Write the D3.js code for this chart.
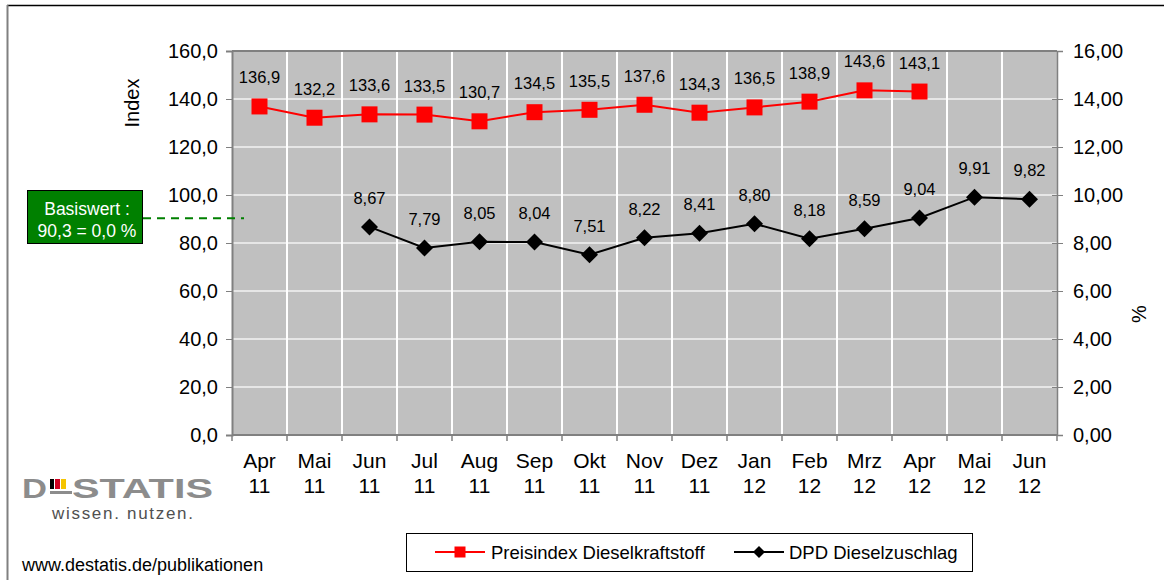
<!DOCTYPE html>
<html>
<head>
<meta charset="utf-8">
<script src="https://cdn.jsdelivr.net/npm/d3@7"></script>
<style>
  body { margin: 0; background: #fff; }
  svg { font-family: "Liberation Sans", Arial, sans-serif; }
  .axis path, .axis line { stroke: #808080; }
  .axis text { font-size: 20px; fill: #000; }
</style>
</head>
<body>
<svg id="chart" width="1164" height="580"></svg>
<script>
const months = ['Apr', 'Mai', 'Jun', 'Jul', 'Aug', 'Sep', 'Okt', 'Nov', 'Dez', 'Jan', 'Feb', 'Mrz', 'Apr', 'Mai', 'Jun'];
const years = ['11', '11', '11', '11', '11', '11', '11', '11', '11', '12', '12', '12', '12', '12', '12'];
const preisindex = [136.9, 132.2, 133.6, 133.5, 130.7, 134.5, 135.5, 137.6, 134.3, 136.5, 138.9, 143.6, 143.1, null, null];
const dpd = [null, null, 8.67, 7.79, 8.05, 8.04, 7.51, 8.22, 8.41, 8.80, 8.18, 8.59, 9.04, 9.91, 9.82];
const leftTicks = [0, 20, 40, 60, 80, 100, 120, 140, 160];
const rightTicks = [0, 2, 4, 6, 8, 10, 12, 14, 16];
const basiswert = 90.3;

function drawChart() {
  const svg = d3.select('#chart');
  const width = 1164,
    height = 580,
    plot = {left: 232, right: 1057, top: 51, bottom: 435};

  const fmt1 = d => d3.format('.1f')(d).replace('.', ',');
  const fmt2 = d => d3.format('.2f')(d).replace('.', ',');

  // outer frame
  svg.append('line').attr('x1', 7).attr('x2', width).attr('y1', 5.5).attr('y2', 5.5)
    .attr('stroke', '#000').attr('stroke-width', 1.5);
  svg.append('line').attr('x1', 7.5).attr('x2', 7.5).attr('y1', 5).attr('y2', height)
    .attr('stroke', '#808080').attr('stroke-width', 2);

  const idx = months.map((d, i) => i);

  const xScale = d3.scaleBand()
    .domain(idx)
    .range([plot.left, plot.right]);

  const yLeft = d3.scaleLinear()
    .domain([0, 160])
    .range([plot.bottom, plot.top]);

  const yRight = d3.scaleLinear()
    .domain([0, 16])
    .range([plot.bottom, plot.top]);

  // plot background
  svg.append('rect')
    .attr('x', plot.left).attr('y', plot.top)
    .attr('width', plot.right - plot.left).attr('height', plot.bottom - plot.top)
    .attr('fill', '#c0c0c0');

  // horizontal grid
  svg.append('g').selectAll('line')
      .data(leftTicks.slice(1, -1))
    .join('line')
      .attr('x1', plot.left).attr('x2', plot.right)
      .attr('y1', d => yLeft(d)).attr('y2', d => yLeft(d))
      .attr('stroke', '#e6e6e6').attr('stroke-width', 2);

  // vertical grid
  svg.append('g').selectAll('line')
      .data(idx.slice(1))
    .join('line')
      .attr('x1', d => xScale(d)).attr('x2', d => xScale(d))
      .attr('y1', plot.top).attr('y2', plot.bottom)
      .attr('stroke', '#fff').attr('stroke-width', 2);

  // plot top border
  svg.append('line')
    .attr('x1', plot.left).attr('x2', plot.right)
    .attr('y1', plot.top).attr('y2', plot.top)
    .attr('stroke', '#808080').attr('stroke-width', 2);

  // left axis
  const leftAxis = svg.append('g')
    .attr('class', 'axis')
    .attr('transform', `translate(${plot.left}, 0)`)
    .call(d3.axisLeft(yLeft).tickValues(leftTicks).tickFormat(fmt1).tickSize(6).tickPadding(8));
  leftAxis.select('.domain').attr('stroke-width', 2);

  // right axis
  const rightAxis = svg.append('g')
    .attr('class', 'axis')
    .attr('transform', `translate(${plot.right}, 0)`)
    .call(d3.axisRight(yRight).tickValues(rightTicks).tickFormat(fmt2).tickSize(6).tickPadding(10));
  rightAxis.select('.domain').attr('stroke', '#000').attr('stroke-width', 1.5);
  rightAxis.selectAll('.tick line').attr('stroke', '#000').attr('x1', -5);

  // bottom axis
  const bottom = svg.append('g').attr('class', 'axis');
  bottom.append('line')
    .attr('x1', plot.left).attr('x2', plot.right)
    .attr('y1', plot.bottom).attr('y2', plot.bottom)
    .attr('stroke', '#808080').attr('stroke-width', 2);
  bottom.selectAll('line.tk')
      .data(idx.concat([idx.length]))
    .join('line')
      .attr('class', 'tk')
      .attr('x1', d => d < idx.length ? xScale(d) : plot.right)
      .attr('x2', d => d < idx.length ? xScale(d) : plot.right)
      .attr('y1', plot.bottom).attr('y2', plot.bottom + 6)
      .attr('stroke', '#808080').attr('stroke-width', 1.5);
  const xl = bottom.selectAll('text.xl')
      .data(idx)
    .join('text')
      .attr('class', 'xl')
      .attr('text-anchor', 'middle')
      .style('font-size', '21px')
      .attr('x', d => xScale(d) + xScale.bandwidth() / 2);
  xl.append('tspan').attr('y', 468).attr('x', d => xScale(d) + xScale.bandwidth() / 2).text(d => months[d]);
  xl.append('tspan').attr('y', 493).attr('x', d => xScale(d) + xScale.bandwidth() / 2).text(d => years[d]);

  // axis titles
  svg.append('text')
    .attr('transform', `translate(139, 103) rotate(-90)`)
    .attr('text-anchor', 'middle').attr('font-size', 20)
    .text('Index');
  svg.append('text')
    .attr('transform', `translate(1146, 314) rotate(-90)`)
    .attr('text-anchor', 'middle').attr('font-size', 20)
    .text('%');

  const cx = i => xScale(i) + xScale.bandwidth() / 2;

  // red series
  const redLine = d3.line()
    .defined(d => d != null)
    .x((d, i) => cx(i))
    .y(d => yLeft(d));
  svg.append('path')
    .attr('d', redLine(preisindex))
    .attr('fill', 'none').attr('stroke', '#ff0000').attr('stroke-width', 2);
  const redPts = preisindex.map((v, i) => ({v, i})).filter(d => d.v != null);
  svg.selectAll('rect.red')
      .data(redPts)
    .join('rect')
      .attr('class', 'red')
      .attr('x', d => cx(d.i) - 8).attr('y', d => yLeft(d.v) - 8)
      .attr('width', 16).attr('height', 16)
      .attr('fill', '#ff0000');
  svg.selectAll('text.redl')
      .data(redPts)
    .join('text')
      .attr('class', 'redl')
      .attr('text-anchor', 'middle').attr('font-size', 16.5)
      .attr('x', d => cx(d.i)).attr('y', d => yLeft(d.v) - 23)
      .text(d => fmt1(d.v));

  // black series
  const blackLine = d3.line()
    .defined(d => d != null)
    .x((d, i) => cx(i))
    .y(d => yRight(d));
  svg.append('path')
    .attr('d', blackLine(dpd))
    .attr('fill', 'none').attr('stroke', '#000').attr('stroke-width', 2);
  const blackPts = dpd.map((v, i) => ({v, i})).filter(d => d.v != null);
  svg.selectAll('path.diamond')
      .data(blackPts)
    .join('path')
      .attr('class', 'diamond')
      .attr('d', d => {
        const x = cx(d.i), y = yRight(d.v), r = 8.5;
        return `M${x},${y - r}L${x + r},${y}L${x},${y + r}L${x - r},${y}Z`;
      })
      .attr('fill', '#000');
  svg.selectAll('text.blackl')
      .data(blackPts)
    .join('text')
      .attr('class', 'blackl')
      .attr('text-anchor', 'middle').attr('font-size', 16.5)
      .attr('x', d => cx(d.i)).attr('y', d => yRight(d.v) - 23)
      .text(d => fmt2(d.v));

  // Basiswert line and box
  svg.append('line')
    .attr('x1', 143).attr('x2', 244)
    .attr('y1', yLeft(basiswert)).attr('y2', yLeft(basiswert))
    .attr('stroke', '#008000').attr('stroke-width', 2).attr('stroke-dasharray', '8,6');
  svg.append('rect')
    .attr('x', 27.5).attr('y', 190.5).attr('width', 115).attr('height', 53)
    .attr('fill', '#008000').attr('stroke', '#000').attr('stroke-width', 1);
  svg.append('text')
    .attr('x', 87).attr('y', 215).attr('text-anchor', 'middle')
    .attr('font-size', 17.5).attr('fill', '#fff')
    .text('Basiswert :');
  svg.append('text')
    .attr('x', 87).attr('y', 237).attr('text-anchor', 'middle')
    .attr('font-size', 17.5).attr('fill', '#fff')
    .text(`${fmt1(basiswert)} = 0,0 %`);

  // legend
  const lg = svg.append('g');
  lg.append('rect')
    .attr('x', 406.5).attr('y', 533.5).attr('width', 566).attr('height', 38)
    .attr('fill', '#fff').attr('stroke', '#000').attr('stroke-width', 1);
  lg.append('line').attr('x1', 435).attr('x2', 485).attr('y1', 552).attr('y2', 552)
    .attr('stroke', '#ff0000').attr('stroke-width', 2);
  lg.append('rect').attr('x', 454.5).attr('y', 546.5).attr('width', 11).attr('height', 11)
    .attr('fill', '#ff0000');
  lg.append('text').attr('x', 491).attr('y', 559).attr('font-size', 18.5)
    .text('Preisindex Dieselkraftstoff');
  lg.append('line').attr('x1', 734).attr('x2', 784).attr('y1', 552).attr('y2', 552)
    .attr('stroke', '#000').attr('stroke-width', 2);
  lg.append('path').attr('d', 'M759,546L765,552L759,558L753,552Z').attr('fill', '#000');
  lg.append('text').attr('x', 789).attr('y', 559).attr('font-size', 18.5)
    .text('DPD Dieselzuschlag');

  // logo
  const logo = svg.append('g');
  logo.append('text').attr('x', 22).attr('y', 498)
    .attr('font-size', 28).attr('font-weight', 'bold').attr('fill', '#8c8c8c')
    .attr('textLength', 25).attr('lengthAdjust', 'spacingAndGlyphs')
    .text('D');
  logo.append('rect').attr('x', 50).attr('y', 479).attr('width', 4).attr('height', 10).attr('fill', '#000');
  logo.append('rect').attr('x', 55).attr('y', 479).attr('width', 5).attr('height', 10).attr('fill', '#d00020');
  logo.append('rect').attr('x', 61).attr('y', 479).attr('width', 5).attr('height', 10).attr('fill', '#f5c400');
  logo.append('rect').attr('x', 50).attr('y', 491).attr('width', 22).attr('height', 3).attr('fill', '#8c8c8c');
  logo.append('text').attr('x', 72).attr('y', 498)
    .attr('font-size', 28).attr('font-weight', 'bold').attr('fill', '#8c8c8c')
    .attr('textLength', 141).attr('lengthAdjust', 'spacingAndGlyphs')
    .text('STATIS');
  logo.append('text').attr('x', 52).attr('y', 519)
    .attr('font-size', 17).attr('fill', '#505050')
    .attr('textLength', 141).attr('lengthAdjust', 'spacing')
    .text('wissen. nutzen.');

  svg.append('text').attr('x', 22).attr('y', 571)
    .attr('font-size', 18).attr('fill', '#000')
    .text('www.destatis.de/publikationen');
}

drawChart();
</script>
</body>
</html>
